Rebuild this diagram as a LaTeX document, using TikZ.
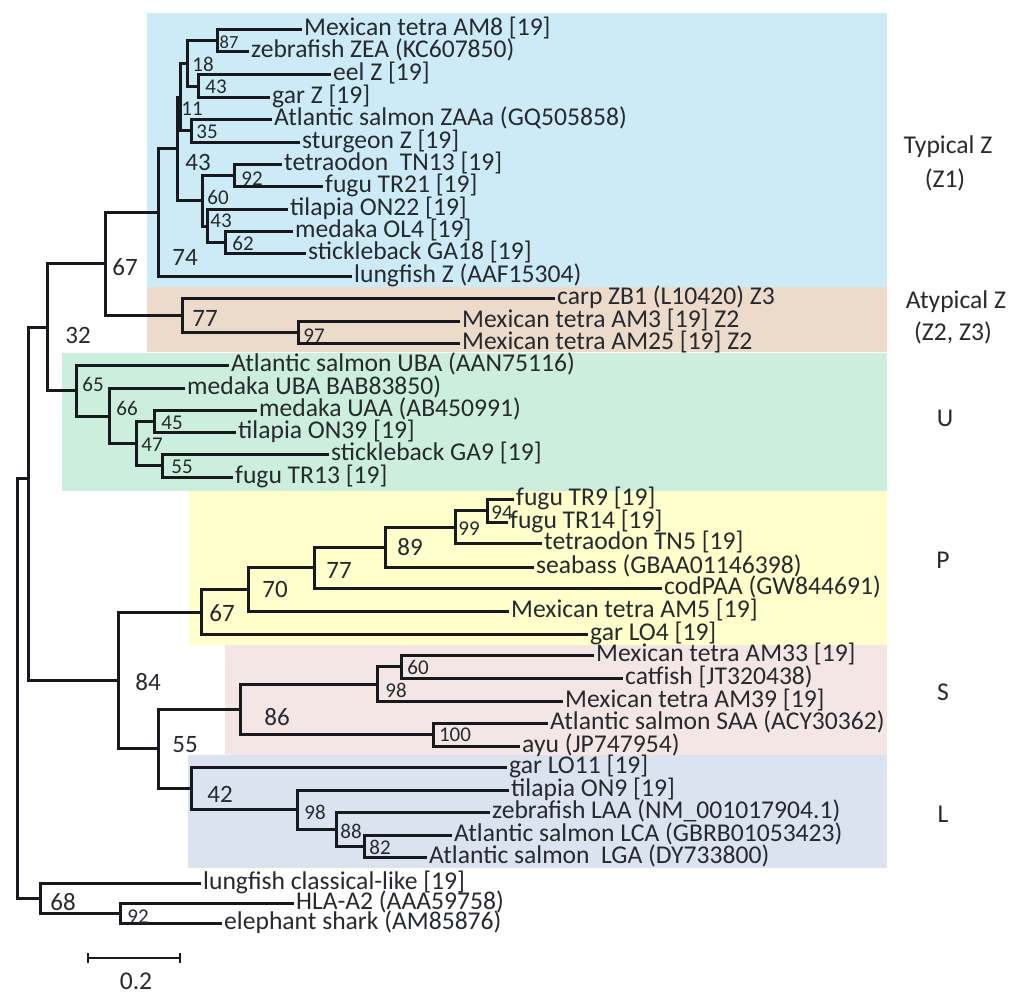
\documentclass[tikz,border=0pt]{standalone}
\usepackage{fontspec}
\setmainfont{Carlito}
\definecolor{bgZ}{HTML}{CDEBF7}
\definecolor{bgA}{HTML}{ECDACB}
\definecolor{bgU}{HTML}{CCEEDC}
\definecolor{bgP}{HTML}{FFFFCC}
\definecolor{bgS}{HTML}{F5E6E6}
\definecolor{bgL}{HTML}{DCE3F0}
\definecolor{ink}{HTML}{161A1E}
\definecolor{txt}{HTML}{262A2E}
\tikzset{
  br/.style={draw=ink, line width=3pt, line cap=rect},
  leaf/.style={anchor=west, inner xsep=4pt, inner ysep=0pt, text=txt, font=\fontsize{25.6}{27}\selectfont, text height=17.5pt, text depth=5pt},
  bs/.style={inner sep=0pt, text=txt, font=\fontsize{21}{23}\selectfont},
  bsbig/.style={inner sep=0pt, text=txt, font=\fontsize{25}{27}\selectfont},
  grp/.style={inner sep=0pt, text=txt, font=\fontsize{25.6}{27}\selectfont, align=center},
}
\begin{document}
\begin{tikzpicture}[x=1pt,y=-1pt]
\useasboundingbox (0,0) rectangle (1024,996);
% backgrounds
\fill[bgZ] (147,13) rectangle (887,287);
\fill[bgA] (147,287) rectangle (887,352);
\fill[bgU] (62,353) rectangle (887,491);
\fill[bgP] (189,491) rectangle (887,645);
\fill[bgS] (225,645) rectangle (887,755);
\fill[bgL] (188,755) rectangle (887,868);

% ---------- Z1 leaves ----------
\node[leaf] (a1) at (300,29) {Mexican tetra AM8 [19]};
\node[leaf] (a2) at (247,51) {zebrafish ZEA (KC607850)};
\node[leaf] (a3) at (329,74) {eel Z [19]};
\node[leaf] (a4) at (268,97) {gar Z [19]};
\node[leaf] (a5) at (270,119) {Atlantic salmon ZAAa (GQ505858)};
\node[leaf] (a6) at (298,142) {sturgeon Z [19]};
\node[leaf] (a7) at (280,164) {tetraodon\ \ TN13 [19]};
\node[leaf] (a8) at (321,186) {fugu TR21 [19]};
\node[leaf] (a9) at (286,209) {tilapia ON22 [19]};
\node[leaf] (a10) at (291,231) {medaka OL4 [19]};
\node[leaf] (a11) at (304,253) {stickleback GA18 [19]};
\node[leaf] (a12) at (350,276) {lungfish Z (AAF15304)};
% Z1 internal
\coordinate (n87) at (217,40);
\coordinate (n43a) at (198,86);
\coordinate (n18) at (187,63);
\coordinate (n35) at (191,130);
\coordinate (n11) at (180,97);
\coordinate (n92a) at (234,175);
\coordinate (n62) at (225,242);
\coordinate (n43b) at (207,226);
\coordinate (n60) at (202,200);
\coordinate (n43c) at (177,148);
\coordinate (n74) at (158,212);
\draw[br] (n87) |- (a1.west);
\draw[br] (n87) |- (a2.west);
\draw[br] (n43a) |- (a3.west);
\draw[br] (n43a) |- (a4.west);
\draw[br] (n18) |- (n87);
\draw[br] (n18) |- (n43a);
\draw[br] (n35) |- (a5.west);
\draw[br] (n35) |- (a6.west);
\draw[br] (n11) |- (n18);
\draw[br] (n11) |- (n35);
\draw[br] (n92a) |- (a7.west);
\draw[br] (n92a) |- (a8.west);
\draw[br] (n62) |- (a10.west);
\draw[br] (n62) |- (a11.west);
\draw[br] (n43b) |- (a9.west);
\draw[br] (n43b) |- (n62);
\draw[br] (n60) |- (n92a);
\draw[br] (n60) |- (n43b);
\draw[br] (n43c) |- (n11);
\draw[br] (n43c) |- (n60);
\draw[br] (n74) |- (n43c);
\draw[br] (n74) |- (a12.west);
\node[bs,font=\fontsize{18.5}{20}\selectfont] (s87) at (229,42) {87};
\node[bs] (s18) at (203,64) {18};
\node[bs] (s43a) at (216,87) {43};
\node[bs] (s11) at (192,109) {11};
\node[bs] (s35) at (207,132) {35};
\node[bsbig] (s43c) at (198,162) {43};
\node[bs] (s92a) at (252,179) {92};
\node[bs] (s60) at (218,197) {60};
\node[bs] (s43b) at (221,221) {43};
\node[bs] (s62) at (243,243) {62};
\node[bsbig] (s74) at (185,257) {74};

% ---------- Atypical Z ----------
\node[leaf] (b1) at (553,298) {carp ZB1 (L10420) Z3};
\node[leaf] (b2) at (458,321) {Mexican tetra AM3 [19] Z2};
\node[leaf] (b3) at (458,343) {Mexican tetra AM25 [19] Z2};
\coordinate (n97) at (298,332);
\coordinate (n77a) at (182,315);
\coordinate (n67a) at (105,263);
\draw[br] (n97) |- (b2.west);
\draw[br] (n97) |- (b3.west);
\draw[br] (n77a) |- (b1.west);
\draw[br] (n77a) |- (n97);
\draw[br] (n67a) |- (n74);
\draw[br] (n67a) |- (n77a);
\node[bs] (s97) at (314,336) {97};
\node[bsbig] (s77a) at (205,318) {77};
\node[bsbig] (s67a) at (125,267) {67};

% ---------- U ----------
\node[leaf] (c1) at (227,365) {Atlantic salmon UBA (AAN75116)};
\node[leaf] (c2) at (183,388) {medaka UBA BAB83850)};
\node[leaf] (c3) at (255,410) {medaka UAA (AB450991)};
\node[leaf] (c4) at (234,432) {tilapia ON39 [19]};
\node[leaf] (c5) at (327,454) {stickleback GA9 [19]};
\node[leaf] (c6) at (231,477) {fugu TR13 [19]};
\coordinate (n45) at (154,421);
\coordinate (n55u) at (162,465);
\coordinate (n47) at (136,443);
\coordinate (n66) at (109,416);
\coordinate (n65) at (76,390);
\coordinate (n32) at (47,327);
\draw[br] (n45) |- (c3.west);
\draw[br] (n45) |- (c4.west);
\draw[br] (n55u) |- (c5.west);
\draw[br] (n55u) |- (c6.west);
\draw[br] (n47) |- (n45);
\draw[br] (n47) |- (n55u);
\draw[br] (n66) |- (c2.west);
\draw[br] (n66) |- (n47);
\draw[br] (n65) |- (c1.west);
\draw[br] (n65) |- (n66);
\draw[br] (n32) |- (n67a);
\draw[br] (n32) |- (n65);
\node[bs] (s65) at (93,384) {65};
\node[bs] (s66) at (127,408) {66};
\node[bs] (s45) at (172,423) {45};
\node[bs] (s47) at (152,445) {47};
\node[bs] (s55u) at (182,467) {55};
\node[bsbig] (s32) at (78,335) {32};

% ---------- P ----------
\node[leaf] (d1) at (512,499) {fugu TR9 [19]};
\node[leaf] (d2) at (506,522) {fugu TR14 [19]};
\node[leaf] (d3) at (540,543) {tetraodon TN5 [19]};
\node[leaf] (d4) at (532,567) {seabass (GBAA01146398)};
\node[leaf] (d5) at (660,588) {codPAA (GW844691)};
\node[leaf] (d6) at (507,611) {Mexican tetra AM5 [19]};
\node[leaf] (d7) at (586,634) {gar LO4 [19]};
\coordinate (n94) at (487,510);
\coordinate (n99) at (455,527);
\coordinate (n89) at (385,547);
\coordinate (n77p) at (314,567);
\coordinate (n70) at (248,589);
\coordinate (n67p) at (201,612);
\draw[br] (n94) |- (d1.west);
\draw[br] (n94) |- (d2.west);
\draw[br] (n99) |- (n94);
\draw[br] (n99) |- (d3.west);
\draw[br] (n89) |- (n99);
\draw[br] (n89) |- (d4.west);
\draw[br] (n77p) |- (n89);
\draw[br] (n77p) |- (d5.west);
\draw[br] (n70) |- (n77p);
\draw[br] (n70) |- (d6.west);
\draw[br] (n67p) |- (n70);
\draw[br] (n67p) |- (d7.west);
\node[bs] (s94) at (502,513) {94};
\node[bs] (s99) at (469,529) {99};
\node[bsbig] (s89) at (410,547) {89};
\node[bsbig] (s77p) at (339,570) {77};
\node[bsbig] (s70) at (275,589) {70};
\node[bsbig] (s67p) at (222,613) {67};

% ---------- S ----------
\node[leaf] (e1) at (592,655) {Mexican tetra AM33 [19]};
\node[leaf] (e2) at (621,678) {catfish [JT320438)};
\node[leaf] (e3) at (561,701) {Mexican tetra AM39 [19]};
\node[leaf] (e4) at (546,723) {Atlantic salmon SAA (ACY30362)};
\node[leaf] (e5) at (518,746) {ayu (JP747954)};
\coordinate (n60s) at (401,666);
\coordinate (n98s) at (377,684);
\coordinate (n100) at (433,734);
\coordinate (n86) at (240,709);
\draw[br] (n60s) |- (e1.west);
\draw[br] (n60s) |- (e2.west);
\draw[br] (n98s) |- (n60s);
\draw[br] (n98s) |- (e3.west);
\draw[br] (n100) |- (e4.west);
\draw[br] (n100) |- (e5.west);
\draw[br] (n86) |- (n98s);
\draw[br] (n86) |- (n100);
\node[bs] (s60s) at (418,667) {60};
\node[bs] (s98s) at (396,690) {98};
\node[bs] (s100) at (455,735) {100};
\node[bsbig] (s86) at (277,717) {86};

% ---------- L ----------
\node[leaf] (f1) at (505,767) {gar LO11 [19]};
\node[leaf] (f2) at (507,790) {tilapia ON9 [19]};
\node[leaf] (f3) at (488,812) {zebrafish LAA (NM\_001017904.1)};
\node[leaf] (f4) at (450,835) {Atlantic salmon LCA (GBRB01053423)};
\node[leaf] (f5) at (425,857) {Atlantic salmon\ \ LGA (DY733800)};
\coordinate (n82) at (364,846);
\coordinate (n88) at (336,829);
\coordinate (n98l) at (297,809);
\coordinate (n42) at (191,788);
\coordinate (n55) at (158,748);
\coordinate (n84) at (118,680);
\draw[br] (n82) |- (f4.west);
\draw[br] (n82) |- (f5.west);
\draw[br] (n88) |- (f3.west);
\draw[br] (n88) |- (n82);
\draw[br] (n98l) |- (f2.west);
\draw[br] (n98l) |- (n88);
\draw[br] (n42) |- (f1.west);
\draw[br] (n42) |- (n98l);
\draw[br] (n55) |- (n86);
\draw[br] (n55) |- (n42);
\draw[br] (n84) |- (n67p);
\draw[br] (n84) |- (n55);
\node[bs] (s82) at (380,847) {82};
\node[bs] (s88) at (351,831) {88};
\node[bs] (s98l) at (315,812) {98};
\node[bsbig] (s42) at (220,794) {42};
\node[bsbig] (s55) at (185,745) {55};
\node[bsbig] (s84) at (148,682) {84};

% ---------- root and outgroup ----------
\coordinate (n28) at (28,478);
\draw[br] (n28) |- (n32);
\draw[br] (n28) |- (n84);
\node[leaf] (g1) at (199,883) {lungfish classical-like [19]};
\node[leaf] (g2) at (292,903) {HLA-A2 (AAA59758)};
\node[leaf] (g3) at (220,923) {elephant shark (AM85876)};
\coordinate (n92s) at (120,913);
\coordinate (n68) at (40,898);
\coordinate (root) at (17,700);
\draw[br] (n92s) |- (g2.west);
\draw[br] (n92s) |- (g3.west);
\draw[br] (n68) |- (g1.west);
\draw[br] (n68) |- (n92s);
\draw[br] (root) |- (n28);
\draw[br] (root) |- (n68);
\node[bsbig] (s68) at (63,902) {68};
\node[bs] (s92s) at (138,917) {92};

% ---------- scale bar ----------
\coordinate (sb1) at (88,958);
\coordinate (sb2) at (180,958);
\draw[br,line width=2.4pt,line cap=butt] (sb1) -- (sb2);
\draw[br,line width=2.4pt,line cap=butt] ([yshift=5pt]sb1) -- ([yshift=-5pt]sb1);
\draw[br,line width=2.4pt,line cap=butt] ([yshift=5pt]sb2) -- ([yshift=-5pt]sb2);
\node[grp] (sbl) at (136,981) {0.2};

% ---------- group labels ----------
\node[grp] (gZ1) at (948,147) {Typical Z};
\node[grp] (gZ1b) at (945,180) {(Z1)};
\node[grp] (gA) at (956,302) {Atypical Z};
\node[grp] (gAb) at (953,333) {(Z2, Z3)};
\node[grp] (gU) at (945,418) {U};
\node[grp] (gP) at (943,560) {P};
\node[grp] (gS) at (943,692) {S};
\node[grp] (gL) at (943,814) {L};
\end{tikzpicture}
\end{document}
